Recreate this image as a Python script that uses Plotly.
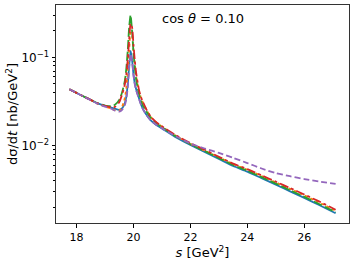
import plotly.graph_objects as go

s = [17.75, 18.0, 18.25, 18.5, 18.75, 19.0, 19.2, 19.35, 19.5, 19.6, 19.7, 19.75, 19.8,
     19.85, 19.9, 19.95, 20.0, 20.05, 20.1, 20.2, 20.3, 20.45, 20.6, 20.8, 21.0, 21.5,
     22.0, 22.5, 23.0, 23.5, 24.0, 24.5, 25.0, 25.5, 26.0, 26.5, 27.1]

blue = [0.0435, 0.0396, 0.0361, 0.0330, 0.0301, 0.0282, 0.0272, 0.0262, 0.0255, 0.0265,
        0.0305, 0.036, 0.050, 0.080, 0.118, 0.095, 0.065, 0.050, 0.043, 0.034, 0.0275,
        0.0225, 0.0195, 0.0172, 0.0157, 0.0124, 0.0102, 0.0085, 0.0071, 0.0059, 0.0051,
        0.0043, 0.00363, 0.00305, 0.00257, 0.00215, 0.00172]

orange = [0.0435, 0.0396, 0.0360, 0.0328, 0.0298, 0.0278, 0.0265, 0.0252, 0.0250, 0.0275,
          0.035, 0.045, 0.070, 0.120, 0.190, 0.180, 0.120, 0.082, 0.060, 0.041, 0.0325,
          0.0258, 0.0213, 0.0183, 0.0164, 0.0129, 0.0105, 0.0088, 0.0074, 0.0062, 0.00535,
          0.00455, 0.00385, 0.00325, 0.00275, 0.00230, 0.00184]

green = [0.0435, 0.0396, 0.0361, 0.0330, 0.0302, 0.0285, 0.0280, 0.0290, 0.0330, 0.040,
         0.055, 0.075, 0.120, 0.220, 0.300, 0.200, 0.115, 0.075, 0.055, 0.038, 0.030,
         0.0245, 0.0208, 0.0180, 0.0162, 0.0127, 0.0104, 0.0087, 0.00727, 0.00605, 0.00523,
         0.00441, 0.00373, 0.00314, 0.00264, 0.00221, 0.00177]

red = [0.0435, 0.0396, 0.0361, 0.0330, 0.0301, 0.0282, 0.0274, 0.0275, 0.031, 0.038,
       0.050, 0.065, 0.095, 0.160, 0.240, 0.220, 0.140, 0.090, 0.065, 0.042, 0.033,
       0.026, 0.0215, 0.0185, 0.0166, 0.0131, 0.0107, 0.0090, 0.0075, 0.00628, 0.00543,
       0.00462, 0.00392, 0.00332, 0.00281, 0.00236, 0.00189]

purple = [0.0435, 0.0396, 0.0360, 0.0328, 0.0298, 0.0277, 0.0264, 0.0250, 0.0243, 0.0255,
          0.029, 0.034, 0.046, 0.075, 0.110, 0.090, 0.063, 0.049, 0.042, 0.0335, 0.0272,
          0.0224, 0.0195, 0.0173, 0.0158, 0.0127, 0.0106, 0.0093, 0.0083, 0.0073, 0.00637,
          0.00553, 0.0049, 0.00452, 0.0042, 0.00394, 0.00371]

x_ticks = [18, 20, 22, 24, 26]
y_ticks = [0.01, 0.1]
y_ticktext = ["10<sup>\u22122</sup>", "10<sup>\u22121</sup>"]
y_minor = [0.002, 0.003, 0.004, 0.005, 0.006, 0.007, 0.008, 0.009,
           0.02, 0.03, 0.04, 0.05, 0.06, 0.07, 0.08, 0.09, 0.2, 0.3]

series = [
    (blue, "#1f77b4", "solid"),
    (orange, "#ff7f0e", "dot"),
    (green, "#2ca02c", "9px,3px"),
    (red, "#d62728", "dashdot"),
    (purple, "#9467bd", "6px,3px"),
]

fig = go.Figure()
for ys, col, dash in series:
    fig.add_trace(go.Scatter(x=s, y=ys, mode="lines",
                             line=dict(color=col, width=1.8, dash=dash, shape="spline", smoothing=0.6),
                             showlegend=False, hoverinfo="skip"))

font = "DejaVu Sans, sans-serif"
fig.update_layout(
    width=355, height=265,
    margin=dict(l=56, r=6, t=5, b=42, pad=0, autoexpand=False),
    paper_bgcolor="white", plot_bgcolor="white",
    font=dict(family=font, size=11, color="black"),
    hovermode=False,
    annotations=[
        dict(text="cos <i>\u03b8</i> = 0.10", x=0.5, y=0.94, xref="paper", yref="paper",
             xanchor="center", yanchor="middle", showarrow=False,
             font=dict(size=13, family=font, color="black")),
    ],
)
fig.update_xaxes(range=[17.28, 27.57], tickvals=x_ticks, ticks="outside", ticklen=3.5,
                 tickwidth=0.8, tickcolor="black", tickfont=dict(size=11),
                 automargin=False,
                 showline=True, mirror=True, linecolor="#333", linewidth=1, showgrid=False,
                 zeroline=False,
                 title=dict(text="<i>s</i> [GeV<sup>2</sup>]", font=dict(size=13), standoff=4))
fig.update_yaxes(type="log", range=[-2.874, -0.408], tickvals=y_ticks, ticktext=y_ticktext,
                 ticks="outside", ticklen=3.5, tickwidth=0.8, tickcolor="black",
                 tickfont=dict(size=12), automargin=False,
                 minor=dict(tickvals=y_minor, ticks="outside", ticklen=2, tickwidth=0.6,
                            tickcolor="black", showgrid=False),
                 showline=True, mirror=True, linecolor="#333", linewidth=1, showgrid=False,
                 zeroline=False,
                 title=dict(text="d\u03c3/d<i>t</i> [nb/GeV<sup>2</sup>]", font=dict(size=13), standoff=0))

fig.write_html("out.html", config={"displayModeBar": False},
               post_script="document.body.style.margin='0';document.body.style.padding='0';")
